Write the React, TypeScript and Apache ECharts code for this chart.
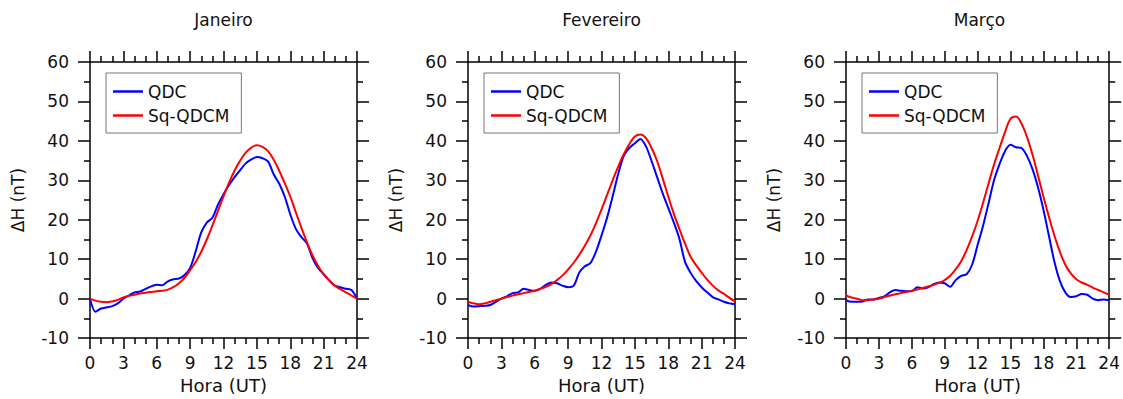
import React, { useEffect, useRef } from "react";
import * as echarts from "echarts";

// ---- Data ----
const months = ["Janeiro", "Fevereiro", "Março"];
const xTicks = [0, 3, 6, 9, 12, 15, 18, 21, 24];
const yTicks = [-10, 0, 10, 20, 30, 40, 50, 60];

// half-hour sampling
const hours = [
  0, 0.5, 1, 1.5, 2, 2.5, 3, 3.5, 4, 4.5, 5, 5.5, 6, 6.5, 7, 7.5, 8, 8.5, 9, 9.5, 10, 10.5, 11, 11.5, 12,
  12.5, 13, 13.5, 14, 14.5, 15, 15.5, 16, 16.5, 17, 17.5, 18, 18.5, 19, 19.5, 20, 20.5, 21, 21.5, 22, 22.5, 23, 23.5, 24,
];

const qdcJan = [
  0, -3.3, -2.5, -2.2, -1.9, -1.2, 0, 0.8, 1.6, 1.8, 2.5, 3.1, 3.5, 3.4, 4.4, 4.9, 5.1, 6.0, 7.8, 12.0, 16.8,
  19.3, 20.5, 23.8, 26.5, 28.8, 30.8, 32.6, 34.3, 35.3, 35.9, 35.6, 34.8, 31.6, 29.2, 25.9, 21.4, 17.7, 15.6,
  14.0, 10.3, 7.8, 6.2, 4.7, 3.3, 2.9, 2.5, 2.2, 0,
];
const sqJan = [
  0, -0.5, -0.8, -0.9, -0.7, -0.3, 0.3, 0.7, 1.0, 1.3, 1.5, 1.7, 1.9, 2.0, 2.3, 2.9, 3.9, 5.3, 7.2, 9.3, 11.9,
  15.0, 18.5, 22.2, 25.9, 29.4, 32.5, 35.0, 37.0, 38.3, 38.9, 38.5, 37.4, 35.3, 32.5, 29.3, 25.9, 21.9, 18.0,
  14.3, 11.0, 8.3, 6.2, 4.6, 3.3, 2.4, 1.6, 0.8, 0,
];

const qdcFeb = [
  -1.6, -2.0, -1.9, -1.8, -1.6, -0.8, 0, 0.6, 1.4, 1.6, 2.5, 2.2, 2.0, 2.5, 3.5, 4.1, 3.9, 3.3, 2.9, 3.3, 6.6,
  8.2, 9.0, 11.9, 16.0, 20.5, 25.9, 31.6, 36.2, 38.2, 39.4, 40.5, 38.6, 34.9, 30.8, 26.7, 23.0, 19.3, 15.2, 9.4,
  6.6, 4.5, 2.9, 1.6, 0.4, -0.2, -0.8, -1.2, -1.4,
];
const sqFeb = [
  -0.8, -1.2, -1.4, -1.2, -0.8, -0.4, 0, 0.4, 0.8, 1.1, 1.4, 1.7, 2.0, 2.5, 3.0, 3.7, 4.7, 5.9, 7.4, 9.1, 11.1,
  13.4, 16.0, 19.1, 22.6, 26.3, 30.0, 33.5, 36.6, 39.2, 41.1, 41.6, 40.7, 38.2, 34.9, 30.5, 25.9, 21.5, 17.7,
  14.0, 10.7, 8.5, 6.6, 4.8, 3.3, 2.1, 1.2, 0.2, -0.7,
];

const qdcMar = [
  -0.4, -0.8, -0.8, -0.7, -0.2, -0.2, 0.2, 0.6, 1.6, 2.2, 2.0, 1.9, 1.9, 2.9, 2.6, 2.9, 3.7, 4.1, 3.9, 3.0, 4.7,
  5.8, 6.2, 8.6, 13.6, 18.5, 24.2, 30.0, 34.1, 37.4, 39.0, 38.4, 38.2, 36.2, 32.9, 28.3, 22.6, 16.0, 9.4, 4.5,
  1.6, 0.4, 0.6, 1.2, 1.0, 0, -0.4, -0.2, -0.4,
];
const sqMar = [
  0.8, 0.3, 0, -0.4, -0.4, -0.2, 0, 0.4, 0.8, 1.1, 1.4, 1.7, 2.0, 2.3, 2.7, 3.1, 3.5, 4.0, 4.7, 5.8, 7.4, 9.5,
  12.3, 15.8, 19.7, 24.3, 29.2, 34.0, 38.2, 42.2, 45.6, 46.2, 44.4, 41.0, 36.6, 31.3, 25.9, 20.8, 16.0, 11.9,
  8.6, 6.4, 4.9, 4.1, 3.5, 2.8, 2.2, 1.6, 1.0,
];

const qdcSeries = [qdcJan, qdcFeb, qdcMar];
const sqSeries = [sqJan, sqFeb, sqMar];

const FONT = "DejaVu Sans";
const TXT = "#111";
const panelLefts = [90, 468, 846];
const PW = 267;
const PTOP = 62;
const PH = 284;

export default function App() {
  const ref = useRef<HTMLDivElement>(null);
  useEffect(() => {
    if (!ref.current) return;
    const chart = echarts.init(ref.current, undefined, { renderer: "svg" });
    const grid: any[] = [];
    const xAxis: any[] = [];
    const yAxis: any[] = [];
    const series: any[] = [];
    const legend: any[] = [];
    const graphic: any[] = [];
    const lineStyleAxis = { color: "#000", width: 1.5 };

    months.forEach((m, i) => {
      const left = panelLefts[i];
      grid.push({ left, top: PTOP, width: PW, height: PH, containLabel: false });
      const baseX = {
        type: "value",
        gridIndex: i,
        min: xTicks[0],
        max: xTicks[xTicks.length - 1],
        interval: 3,
        splitLine: { show: false },
        axisLine: { show: true, lineStyle: lineStyleAxis, onZero: false },
        axisTick: { show: true, inside: false, length: 11, lineStyle: { color: "#000", width: 1.5 } },
        minorTick: { show: true, splitNumber: 3, length: 6, lineStyle: { color: "#000", width: 1.5 } },
      };
      xAxis.push({
        ...baseX,
        position: "bottom",
        name: "Hora (UT)",
        nameLocation: "middle",
        nameGap: 34,
        nameTextStyle: { fontFamily: FONT, fontSize: 18, color: TXT },
        axisLabel: { show: true, fontFamily: FONT, fontSize: 17, color: TXT, margin: 16 },
      });
      xAxis.push({ ...baseX, position: "top", axisLabel: { show: false } });
      const baseY = {
        type: "value",
        gridIndex: i,
        min: yTicks[0],
        max: yTicks[yTicks.length - 1],
        interval: 10,
        splitLine: { show: false },
        axisLine: { show: true, lineStyle: lineStyleAxis, onZero: false },
        axisTick: { show: true, inside: false, length: 12, lineStyle: { color: "#000", width: 1.5 } },
        minorTick: { show: true, splitNumber: 2, length: 6, lineStyle: { color: "#000", width: 1.5 } },
      };
      yAxis.push({
        ...baseY,
        position: "left",
        name: "ΔH (nT)",
        nameLocation: "middle",
        nameGap: 64,
        nameTextStyle: { fontFamily: FONT, fontSize: 17, color: TXT },
        axisLabel: { show: true, fontFamily: FONT, fontSize: 17, color: TXT, margin: 21 },
      });
      yAxis.push({ ...baseY, position: "right", axisLabel: { show: false } });

      series.push({
        name: "QDC",
        type: "line",
        xAxisIndex: i * 2,
        yAxisIndex: i * 2,
        data: hours.map((h, k) => [h, qdcSeries[i][k]]),
        showSymbol: false,
        smooth: 0.3,
        lineStyle: { color: "#0000ff", width: 2 },
        itemStyle: { color: "#0000ff" },
        z: 3,
      });
      series.push({
        name: "Sq-QDCM",
        type: "line",
        xAxisIndex: i * 2,
        yAxisIndex: i * 2,
        data: hours.map((h, k) => [h, sqSeries[i][k]]),
        showSymbol: false,
        smooth: 0.4,
        lineStyle: { color: "#ff0000", width: 2 },
        itemStyle: { color: "#ff0000" },
        z: 4,
      });

      legend.push({
        show: true,
        left: left + 16,
        top: 73,
        orient: "vertical",
        selectedMode: false,
        data: ["QDC", "Sq-QDCM"],
        icon: "rect",
        itemWidth: 30,
        itemHeight: 2.5,
        itemGap: 7,
        padding: [10, 12, 9, 7],
        borderColor: "#777",
        borderWidth: 1,
        backgroundColor: "#fff",
        textStyle: { fontFamily: FONT, fontSize: 17, color: TXT, lineHeight: 17 },
        z: 10,
      });

      graphic.push({
        type: "text",
        x: left + PW / 2,
        y: 20,
        style: {
          text: m,
          fontFamily: FONT,
          fontSize: 17,
          fill: TXT,
          textAlign: "center",
          textVerticalAlign: "middle",
        },
      });
    });

    chart.setOption({
      animation: false,
      backgroundColor: "#fff",
      grid,
      xAxis,
      yAxis,
      series,
      legend,
      graphic,
    });
    return () => chart.dispose();
  }, []);
  return (
    <div
      ref={ref}
      style={{ position: "fixed", left: 0, top: 0, width: 1123, height: 399, background: "#fff" }}
    />
  );
}
